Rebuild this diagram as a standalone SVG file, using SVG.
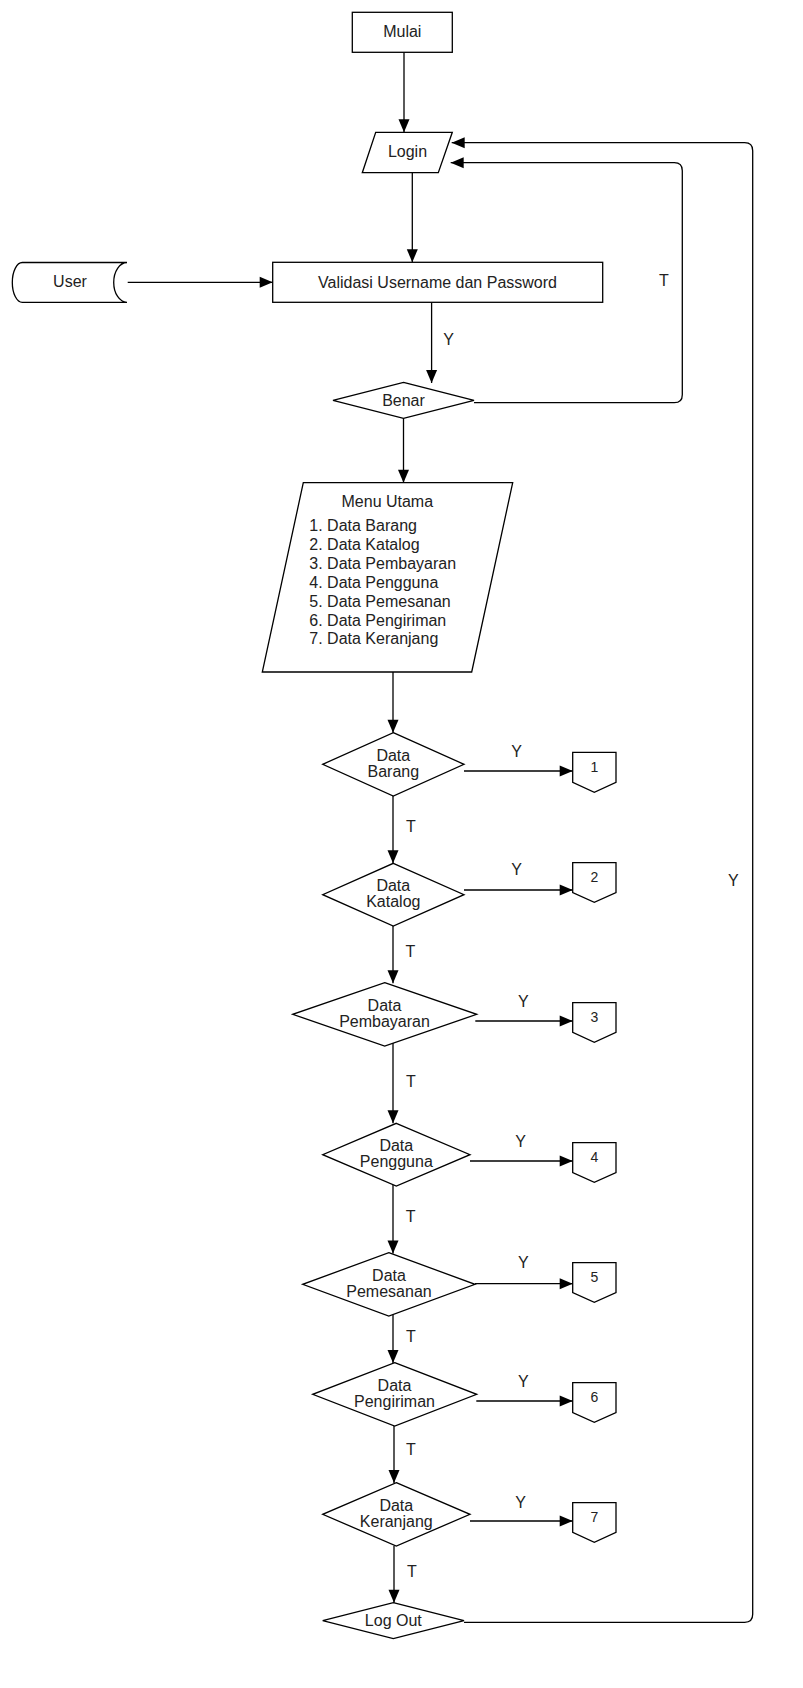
<svg xmlns="http://www.w3.org/2000/svg" width="803" height="1688" viewBox="0 0 803 1688">
<style>
.s{fill:#fff;stroke:#000;stroke-width:1.3}
.c{fill:none;stroke:#000;stroke-width:1.3}
text{font-family:"Liberation Sans",Arial,sans-serif;font-size:16px;fill:#222;text-anchor:middle}
.d{font-size:14px}
.l{text-anchor:start}
</style>
<defs>
<marker id="a" markerUnits="userSpaceOnUse" markerWidth="13" markerHeight="11" refX="13" refY="5.5" orient="auto" overflow="visible">
<path d="M0,0 L13,5.5 L0,11 Z" fill="#000"/>
</marker>
</defs>
<rect width="803" height="1688" fill="#fff"/>
<g id="connectors">
<path class="c" d="M404,52.3 V132.3" marker-end="url(#a)"/>
<path class="c" d="M412.3,172.7 V262.3" marker-end="url(#a)"/>
<path class="c" d="M127.7,282.3 H272.7" marker-end="url(#a)"/>
<path class="c" d="M431.6,302.3 V383" marker-end="url(#a)"/>
<path class="c" d="M474,402.7 H674.3 Q682.3,402.7 682.3,394.7 V170.7 Q682.3,162.7 674.3,162.7 H450.7" marker-end="url(#a)"/>
<path class="c" d="M403.5,418.3 V482.7" marker-end="url(#a)"/>
<path class="c" d="M393,672 V732.7" marker-end="url(#a)"/>
<path class="c" d="M393,796 V863.3" marker-end="url(#a)"/>
<path class="c" d="M393,926 V983.3" marker-end="url(#a)"/>
<path class="c" d="M393,1043 V1123.3" marker-end="url(#a)"/>
<path class="c" d="M393,1184.5 V1253.5" marker-end="url(#a)"/>
<path class="c" d="M393,1314.8 V1363" marker-end="url(#a)"/>
<path class="c" d="M394,1425.8 V1483" marker-end="url(#a)"/>
<path class="c" d="M394,1545.8 V1602.7" marker-end="url(#a)"/>
<path class="c" d="M464,771 H572.7" marker-end="url(#a)"/>
<path class="c" d="M464,890 H572.7" marker-end="url(#a)"/>
<path class="c" d="M475.3,1021 H572.7" marker-end="url(#a)"/>
<path class="c" d="M470,1161 H572.7" marker-end="url(#a)"/>
<path class="c" d="M475,1283.7 H572.7" marker-end="url(#a)"/>
<path class="c" d="M476.3,1401 H572.7" marker-end="url(#a)"/>
<path class="c" d="M470,1521 H572.7" marker-end="url(#a)"/>
<path class="c" d="M464,1622.3 H744.7 Q752.7,1622.3 752.7,1614.3 V150.7 Q752.7,142.7 744.7,142.7 H451.7" marker-end="url(#a)"/>
<text x="448.5" y="345">Y</text>
<text x="664" y="286">T</text>
<text x="733.3" y="885.7">Y</text>
<text x="516.7" y="756.7">Y</text>
<text x="516.7" y="875">Y</text>
<text x="523.3" y="1006.7">Y</text>
<text x="520.7" y="1146.7">Y</text>
<text x="523.3" y="1267.7">Y</text>
<text x="523.3" y="1386.7">Y</text>
<text x="520.7" y="1507.7">Y</text>
<text x="411" y="831.7">T</text>
<text x="410.5" y="956.7">T</text>
<text x="411" y="1086.7">T</text>
<text x="410.7" y="1222.3">T</text>
<text x="411" y="1341.7">T</text>
<text x="411" y="1455">T</text>
<text x="412" y="1576.7">T</text>
</g>
<g id="mulai">
<rect class="s" x="352.3" y="12.3" width="100" height="40"/>
<text x="402.3" y="37">Mulai</text>
</g>
<g id="login">
<polygon class="s" points="375.7,132.3 452.3,132.3 438.3,172.7 362.3,172.7"/>
<text x="407.5" y="157">Login</text>
</g>
<g id="user">
<path class="s" d="M22.3,262.5 H127 A13.3,19.9 0 0 0 127,302.3 H22.3 A10,19.9 0 0 1 22.3,262.5 Z"/>
<text x="70" y="287">User</text>
</g>
<g id="validasi">
<rect class="s" x="272.7" y="262.3" width="330" height="40"/>
<text x="437.5" y="287.5">Validasi Username dan Password</text>
</g>
<g id="benar">
<polygon class="s" points="403.5,382.3 474,400.3 403.5,418.3 333,400.3"/>
<text x="403.5" y="405.5">Benar</text>
</g>
<g id="menu">
<polygon class="s" points="303.3,482.7 512.7,482.7 471.7,672 262.3,672"/>
<text x="387.3" y="506.7">Menu Utama</text>
<text class="l" x="309.3" y="531">1. Data Barang</text>
<text class="l" x="309.3" y="550">2. Data Katalog</text>
<text class="l" x="309.3" y="569">3. Data Pembayaran</text>
<text class="l" x="309.3" y="588">4. Data Pengguna</text>
<text class="l" x="309.3" y="606.7">5. Data Pemesanan</text>
<text class="l" x="309.3" y="625.7">6. Data Pengiriman</text>
<text class="l" x="309.3" y="644.3">7. Data Keranjang</text>
</g>
<g id="barang">
<polygon class="s" points="393.3,732.7 464,764.3 393.3,796 322.7,764.3"/>
<text x="393.3" y="761">Data</text>
<text x="393.3" y="776.7">Barang</text>
</g>
<g id="katalog">
<polygon class="s" points="393.3,863.3 464,894.7 393.3,926 322.7,894.7"/>
<text x="393.3" y="891.3">Data</text>
<text x="393.3" y="907">Katalog</text>
</g>
<g id="pembayaran">
<polygon class="s" points="384.7,982.7 476.7,1014.3 384.7,1046 292.7,1014.3"/>
<text x="384.5" y="1011">Data</text>
<text x="384.5" y="1026.7">Pembayaran</text>
</g>
<g id="pengguna">
<polygon class="s" points="396.3,1123.3 470,1154.7 396.3,1186 322.7,1154.7"/>
<text x="396.3" y="1151.3">Data</text>
<text x="396.3" y="1167">Pengguna</text>
</g>
<g id="pemesanan">
<polygon class="s" points="388.8,1252.7 475,1284.3 388.8,1316 302.7,1284.3"/>
<text x="389" y="1281">Data</text>
<text x="389" y="1296.7">Pemesanan</text>
</g>
<g id="pengiriman">
<polygon class="s" points="394.7,1362.7 476.7,1394.3 394.7,1426 312.7,1394.3"/>
<text x="394.5" y="1391">Data</text>
<text x="394.5" y="1406.7">Pengiriman</text>
</g>
<g id="keranjang">
<polygon class="s" points="396.3,1482.7 470,1514.3 396.3,1546 322.7,1514.3"/>
<text x="396.3" y="1511">Data</text>
<text x="396.3" y="1526.7">Keranjang</text>
</g>
<g id="logout">
<polygon class="s" points="393.3,1602.7 464,1620.7 393.3,1638.7 322.7,1620.7"/>
<text x="393.3" y="1625.5">Log Out</text>
</g>
<g id="p1"><polygon class="s" points="572.7,752.3 616,752.3 616,782.3 594.3,792.3 572.7,782.3"/><text class="d" x="594.3" y="771.7">1</text></g>
<g id="p2"><polygon class="s" points="572.7,862.7 616,862.7 616,892.7 594.3,902.3 572.7,892.7"/><text class="d" x="594.3" y="882">2</text></g>
<g id="p3"><polygon class="s" points="572.7,1002.7 616,1002.7 616,1032.3 594.3,1042.3 572.7,1032.3"/><text class="d" x="594.3" y="1022">3</text></g>
<g id="p4"><polygon class="s" points="572.7,1142.7 616,1142.7 616,1172.7 594.3,1182.3 572.7,1172.7"/><text class="d" x="594.3" y="1162">4</text></g>
<g id="p5"><polygon class="s" points="572.7,1262.7 616,1262.7 616,1292.7 594.3,1302.3 572.7,1292.7"/><text class="d" x="594.3" y="1282">5</text></g>
<g id="p6"><polygon class="s" points="572.7,1382.7 616,1382.7 616,1412.7 594.3,1422.3 572.7,1412.7"/><text class="d" x="594.3" y="1402">6</text></g>
<g id="p7"><polygon class="s" points="572.7,1502.7 616,1502.7 616,1532.3 594.3,1542.3 572.7,1532.3"/><text class="d" x="594.3" y="1522">7</text></g>
</svg>
